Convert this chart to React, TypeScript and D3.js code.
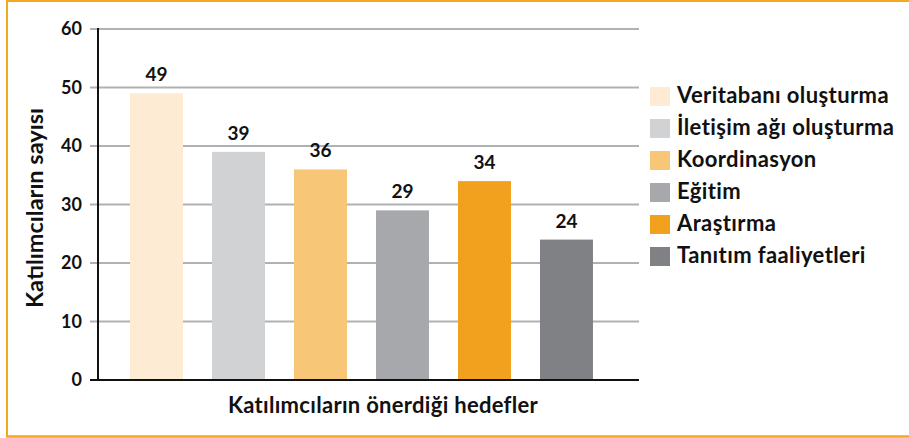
import React from "react";
import * as d3 from "d3";

const categories = [
  "Veritabanı oluşturma",
  "İletişim ağı oluşturma",
  "Koordinasyon",
  "Eğitim",
  "Araştırma",
  "Tanıtım faaliyetleri",
];
const values = [49, 39, 36, 29, 34, 24];
const colors = ["#FDEBD3", "#D1D2D4", "#F8C677", "#A7A8AB", "#F2A11F", "#808184"];
const yTicks = [0, 10, 20, 30, 40, 50, 60];
const yTitle = "Katılımcıların sayısı";
const xTitle = "Katılımcıların önerdiği hedefler";

const W = 909;
const H = 438;
const FONT = "Lato, 'Open Sans', sans-serif";

export default function App() {
  const y = d3.scaleLinear().domain([0, 60]).range([380, 29]);
  const x = d3
    .scaleBand<string>()
    .domain(categories)
    .range([101, 622])
    .paddingInner(0.354)
    .paddingOuter(0.354);
  const axisX = 98;
  const gridX1 = 90;
  const gridX2 = 639;

  return (
    <svg
      width={W}
      height={H}
      style={{ position: "absolute", left: 0, top: 0, background: "#fff" }}
      fontFamily={FONT}
    >
      {/* border */}
      <line x1={6} y1={1} x2={W} y2={1} stroke="#F5A623" strokeWidth={2} />
      <line x1={7} y1={0} x2={7} y2={437} stroke="#F5A623" strokeWidth={2} />
      <line x1={6} y1={436.5} x2={W} y2={436.5} stroke="#F5A623" strokeWidth={2.5} />

      {/* gridlines */}
      {yTicks.filter((t) => t > 0).map((t) => (
        <line key={t} x1={gridX1} x2={gridX2} y1={y(t)} y2={y(t)} stroke="#B1B1B3" strokeWidth={2} />
      ))}

      {/* bars */}
      {categories.map((c, i) => (
        <rect key={c} x={x(c)} y={y(values[i])} width={x.bandwidth()} height={y(0) - y(values[i])} fill={colors[i]} />
      ))}

      {/* value labels */}
      {categories.map((c, i) => (
        <text
          key={c}
          x={(x(c) as number) + x.bandwidth() / 2}
          y={y(values[i]) - 12}
          textAnchor="middle"
          fontSize={19}
          fontWeight={700}
          fill="#111"
        >
          {values[i]}
        </text>
      ))}

      {/* axes */}
      <line x1={gridX1} x2={gridX2} y1={y(0)} y2={y(0)} stroke="#111" strokeWidth={2} />
      <line x1={axisX} x2={axisX} y1={y(60) - 1} y2={y(0) + 1} stroke="#111" strokeWidth={2} />

      {yTicks.map((t) => (
        <text key={t} x={82} y={y(t) + 6} textAnchor="end" fontSize={18} fontWeight={700} fill="#111">
          {t}
        </text>
      ))}

      <text
        transform={`translate(43, 208) rotate(-90)`}
        textAnchor="middle"
        fontSize={23.5}
        fontWeight={700}
        fill="#111"
      >
        {yTitle}
      </text>
      <text x={383} y={413} textAnchor="middle" fontSize={22} fontWeight={700} letterSpacing={0.3} fill="#111">
        {xTitle}
      </text>

      {/* legend */}
      {categories.map((c, i) => (
        <g key={c} transform={`translate(650, ${87 + i * 32})`}>
          <rect width={20} height={19} fill={colors[i]} />
          <text x={27} y={16} fontSize={22} fontWeight={700} letterSpacing={0.4} fill="#111">
            {c}
          </text>
        </g>
      ))}
    </svg>
  );
}
